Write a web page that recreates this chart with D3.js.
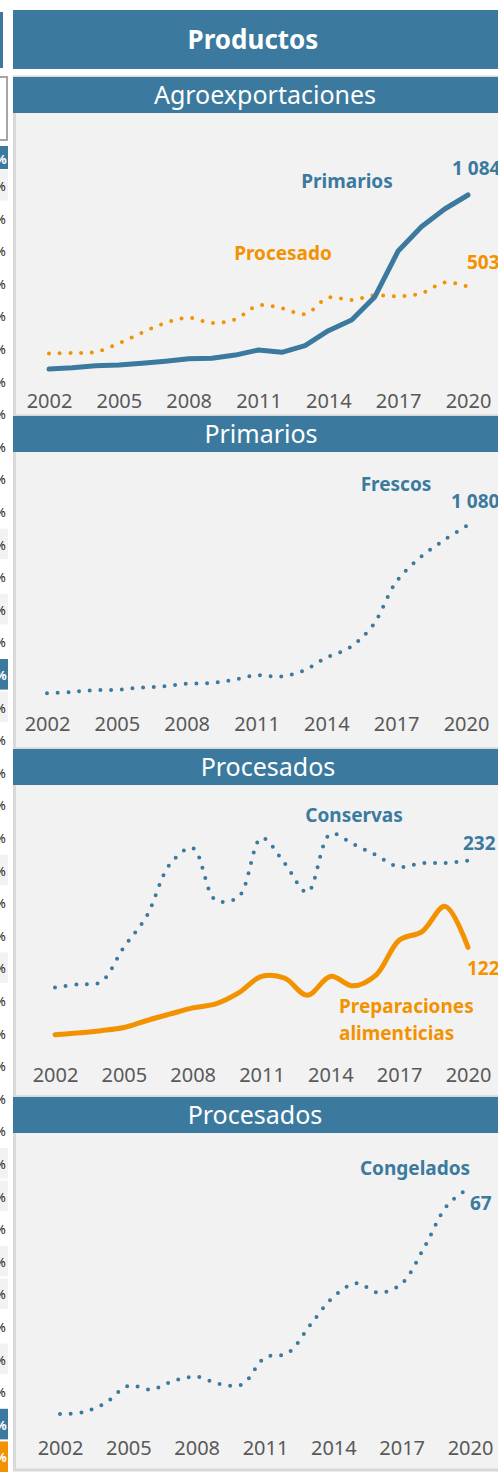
<!DOCTYPE html>
<html>
<head>
<meta charset="utf-8">
<script src="https://cdn.jsdelivr.net/npm/d3@7"></script>
<style>
  body { margin: 0; background: #fff; overflow: hidden; }
  svg { display: block; font-family: 'Noto Sans', sans-serif; }
</style>
</head>
<body>
<div id="chart"></div>
<script>
// categories and ticks
const years = [2002, 2003, 2004, 2005, 2006, 2007, 2008, 2009, 2010, 2011,
  2012, 2013, 2014, 2015, 2016, 2017, 2018, 2019, 2020];
const tickYears = [2002, 2005, 2008, 2011, 2014, 2017, 2020];

// series values
const agroPrimarios = [64, 72, 84, 88, 98, 110, 125, 127, 146, 176, 162, 201, 289, 351, 488, 756, 898, 1002, 1084];
const agroProcesado = [206, 209, 213, 252, 299, 342, 365, 342, 358, 420, 407, 382, 454, 444, 465, 460, 474, 522, 503];
const frescos = [59, 67, 78, 81, 94, 102, 118, 122, 141, 169, 161, 196, 277, 338, 475, 740, 886, 990, 1080];
const conservas = [71, 75, 78, 122, 162, 227, 248, 182, 186, 261, 229, 192, 266, 253, 239, 224, 229, 229, 232];
const preparaciones = [11, 13, 16, 20, 29, 37, 45, 50, 64, 85, 83, 61, 85, 73, 87, 131, 142, 174, 122];
const congelados = [4.4, 4.9, 7.5, 12.2, 11.2, 13.6, 14.7, 12.7, 12.6, 20.0, 21.2, 29.1, 36.7, 40.5, 37.9, 40.4, 50.5, 62.0, 67];

// texts
const mainTitle = 'Productos';
const panelTitles = ['Agroexportaciones', 'Primarios', 'Procesados', 'Procesados'];

const BLUE = '#3b7a9e';
const ORANGE = '#f39200';
const width = 498;
const height = 1472;

const svg = d3.select('#chart')
  .append('svg')
  .attr('width', width)
  .attr('height', height);

// clipped table column on the far left
const strip = svg.append('g');
strip.append('rect').attr('x', 0).attr('y', 12).attr('width', 3).attr('height', 56).attr('fill', BLUE);
strip.append('rect').attr('x', -4).attr('y', 77).attr('width', 11).attr('height', 63)
  .attr('fill', '#fff').attr('stroke', '#a6a6a6').attr('stroke-width', 2);
strip.append('rect').attr('x', 0).attr('y', 146).attr('width', 8).attr('height', 23).attr('fill', BLUE);
strip.append('text').attr('x', -5).attr('y', 164).attr('fill', '#fff')
  .style('font-size', '13px').style('font-weight', 'bold').text('%');
const shaded = [0, 11, 13, 16, 21, 24, 30, 31, 33, 34, 36];
d3.range(40).forEach(i => {
  const top = 169 + i * 32.6;
  let fill = shaded.includes(i) ? '#f2f2f2' : '#fff';
  let tc = '#222';
  if (i === 15 || i === 38) { fill = BLUE; tc = '#fff'; }
  if (i === 39) { fill = ORANGE; tc = '#fff'; }
  strip.append('rect').attr('x', 0).attr('y', top + 1).attr('width', 8).attr('height', 30.6).attr('fill', fill);
  strip.append('text').attr('x', -5).attr('y', top + 22).attr('fill', tc)
    .style('font-size', '13px').style('font-weight', tc === '#fff' ? 'bold' : 'normal').text('%');
});

// main header
svg.append('rect').attr('x', 13).attr('y', 10).attr('width', width - 13).attr('height', 59).attr('fill', BLUE);
svg.append('text')
  .attr('x', 253).attr('y', 49)
  .attr('text-anchor', 'middle')
  .attr('fill', '#fff')
  .style('font-size', '26px').style('font-weight', 'bold')
  .text(mainTitle);

const panels = [
  {
    title: panelTitles[0], top: 77, bottom: 416, titleX: 265, xr: [49, 468], tickY: 408,
    series: [
      { values: agroProcesado, color: ORANGE, dotted: true, y: [400, 286.7], max: 503 },
      { values: agroPrimarios, color: BLUE, dotted: false, smooth: false, y: [380, 195], max: 1084 }
    ],
    labels: [
      { text: 'Primarios', x: 347, y: 181, anchor: 'middle', color: BLUE },
      { text: '1 084', x: 452, y: 168, anchor: 'start', color: BLUE },
      { text: 'Procesado', x: 283, y: 253, anchor: 'middle', color: ORANGE },
      { text: '503', x: 467, y: 262, anchor: 'start', color: ORANGE }
    ]
  },
  {
    title: panelTitles[1], top: 416, bottom: 749, titleX: 261, xr: [47, 466], tickY: 731,
    series: [
      { values: frescos, color: BLUE, dotted: true, y: [703, 526.3], max: 1080 }
    ],
    labels: [
      { text: 'Frescos', x: 396, y: 484, anchor: 'middle', color: BLUE },
      { text: '1 080', x: 451, y: 501, anchor: 'start', color: BLUE }
    ]
  },
  {
    title: panelTitles[2], top: 749, bottom: 1097, titleX: 268, xr: [55, 468], tickY: 1082,
    series: [
      { values: conservas, color: BLUE, dotted: true, y: [1043.3, 860.7], max: 232 },
      { values: preparaciones, color: ORANGE, dotted: false, smooth: true, y: [1043.3, 947.3], max: 122 }
    ],
    labels: [
      { text: 'Conservas', x: 354, y: 815, anchor: 'middle', color: BLUE },
      { text: '232', x: 463, y: 843, anchor: 'start', color: BLUE },
      { text: '122', x: 467, y: 968, anchor: 'start', color: ORANGE },
      { text: 'Preparaciones', x: 339, y: 1006, anchor: 'start', color: ORANGE },
      { text: 'alimenticias', x: 339, y: 1033, anchor: 'start', color: ORANGE }
    ]
  },
  {
    title: panelTitles[3], top: 1097, bottom: 1470, titleX: 255, xr: [60, 470], tickY: 1455,
    series: [
      { values: congelados, color: BLUE, dotted: true, y: [1430, 1187.3], max: 67 }
    ],
    labels: [
      { text: 'Congelados', x: 415, y: 1168, anchor: 'middle', color: BLUE },
      { text: '67', x: 470, y: 1203, anchor: 'start', color: BLUE }
    ]
  }
];

panels.forEach(p => {
  const g = svg.append('g');

  // chart background + border
  g.append('rect')
    .attr('x', 14.5).attr('y', p.top)
    .attr('width', width).attr('height', p.bottom - p.top)
    .attr('fill', '#f2f2f2')
    .attr('stroke', '#d9d9d9').attr('stroke-width', 3);

  // title bar
  g.append('rect')
    .attr('x', 13).attr('y', p.top)
    .attr('width', width - 13).attr('height', 36)
    .attr('fill', BLUE);
  g.append('text')
    .attr('x', p.titleX).attr('y', p.top + 27)
    .attr('text-anchor', 'middle')
    .attr('fill', '#fff')
    .style('font-size', '25px')
    .text(p.title);

  const x = d3.scalePoint().domain(years).range(p.xr);

  // x axis, labels only
  const axis = g.append('g')
    .attr('transform', 'translate(0,' + (p.tickY - 15) + ')')
    .call(d3.axisBottom(x).tickValues(tickYears).tickSize(0).tickPadding(0));
  axis.select('.domain').remove();
  axis.selectAll('text')
    .attr('y', 15)
    .attr('dy', 0)
    .attr('fill', '#595959')
    .style('font-family', "'Noto Sans', sans-serif")
    .style('font-size', '20px');

  p.series.forEach(s => {
    const y = d3.scaleLinear().domain([0, s.max]).range(s.y);
    const line = d3.line()
      .x((d, i) => x(years[i]))
      .y(d => y(d))
      .curve(s.smooth === false ? d3.curveLinear : d3.curveCatmullRom.alpha(0.5));
    const path = g.append('path')
      .datum(s.values)
      .attr('d', line)
      .attr('fill', 'none')
      .attr('stroke', s.color)
      .attr('stroke-linecap', 'round')
      .attr('stroke-linejoin', 'round');
    if (s.dotted) {
      path.attr('stroke-width', 4).attr('stroke-dasharray', '0 10.7');
    } else {
      path.attr('stroke-width', 5);
    }
  });

  p.labels.forEach(l => {
    g.append('text')
      .attr('x', l.x).attr('y', l.y)
      .attr('dy', '0.36em')
      .attr('text-anchor', l.anchor)
      .attr('fill', l.color)
      .style('font-size', '19px')
      .style('font-weight', 'bold')
      .text(l.text);
  });
});
</script>
</body>
</html>
